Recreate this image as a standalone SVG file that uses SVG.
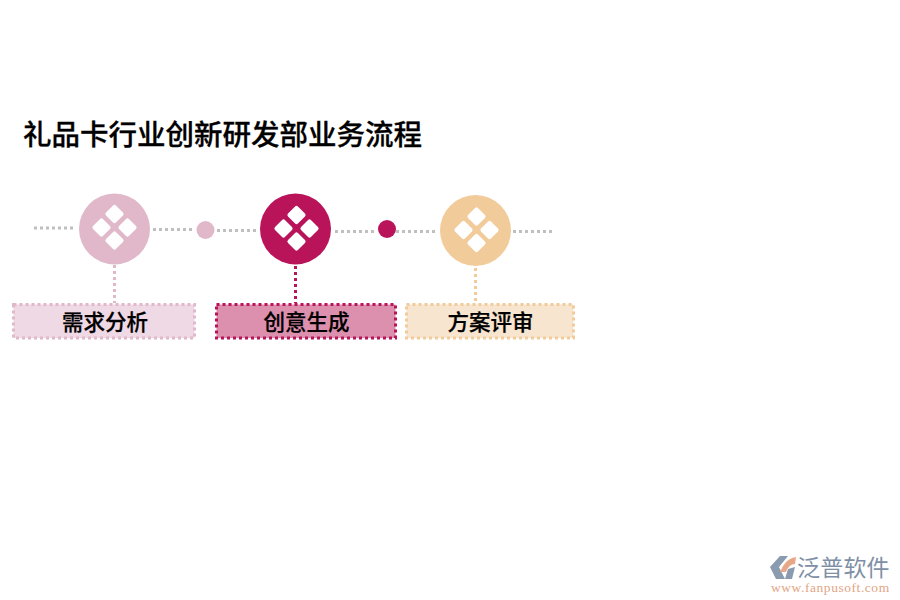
<svg xmlns="http://www.w3.org/2000/svg" width="900" height="600" viewBox="0 0 900 600">
<style>
text{font-family:"Liberation Sans","Noto Sans CJK SC",sans-serif;font-weight:500;fill:#000}
.t{font-size:28.500px;stroke:#000;stroke-width:.3px}
.l{font-size:21.500px;text-anchor:middle;stroke:#000;stroke-width:.25px}
.g{fill:none;stroke:#bfbfbf;stroke-width:3;stroke-dasharray:3 3}
.v,.b{stroke-width:3;stroke-dasharray:3 3}
.v{fill:none}
.d{fill:#fff}
</style>
<defs>
<g id="dia">
<rect class="d" x="-7" y="-7" width="14" height="14" rx="2" transform="translate(0,-14.5) rotate(45)"/>
<rect class="d" x="-7" y="-7" width="14" height="14" rx="2" transform="translate(-13,-1) rotate(45)"/>
<rect class="d" x="-7" y="-7" width="14" height="14" rx="2" transform="translate(13,-1) rotate(45)"/>
<rect class="d" x="-7" y="-7" width="14" height="14" rx="2" transform="translate(0,12) rotate(45)"/>
</g>
</defs>
<rect width="900" height="600" fill="#fff"/>
<text id="title" class="t" x="23" y="144.500">礼品卡行业创新研发部业务流程</text>
<g id="connectors">
<path class="g" d="M34 228H73"/>
<path class="g" d="M153 229.500H193"/>
<path class="g" d="M217 230.500H257"/>
<path class="g" d="M335 231.500H374"/>
<path class="g" d="M396 231.500H436"/>
<path class="g" d="M513 231.500H552"/>
<path class="v" stroke="#e0b8ca" d="M114.500 265V303"/>
<path class="v" stroke="#b9135a" d="M295.500 266V303"/>
<path class="v" stroke="#f2cb9a" d="M475.500 268V303"/>
</g>
<g id="node1">
<circle cx="114.500" cy="229" r="35.500" fill="#e0b8ca"/>
<use href="#dia" x="114.500" y="228.500"/>
<rect class="b" x="13.500" y="304.500" width="181" height="33.500" fill="#efd9e5" stroke="#e0b8ca"/>
<text class="l" x="105" y="329.500">需求分析</text>
</g>
<g id="dot1"><circle cx="205.500" cy="230" r="9" fill="#e0b8ca"/></g>
<g id="node2">
<circle cx="295.500" cy="229" r="35.500" fill="#b9135a"/>
<use href="#dia" x="296.500" y="229.500"/>
<rect class="b" x="216.500" y="304.500" width="179" height="33.500" fill="#dd8fae" stroke="#b9135a"/>
<text class="l" x="306.500" y="329.500">创意生成</text>
</g>
<g id="dot2"><circle cx="387" cy="229" r="9" fill="#b9135a"/></g>
<g id="node3">
<circle cx="475.500" cy="230.500" r="35.500" fill="#f2cb9a"/>
<use href="#dia" x="476.500" y="231"/>
<rect class="b" x="406.500" y="304.500" width="167" height="33.500" fill="#f8e5cf" stroke="#f2cb9a"/>
<text class="l" x="490.500" y="329.500">方案评审</text>
</g>
<g id="logo">
<path d="M780 556L770 567L776 579L785 579L779 567L788 556Z" fill="#8a9bb0"/>
<path d="M783 566Q788 558 796 557L795 564Q789 564 786 572L780 572Z" fill="#e8a888"/>
<path d="M788 569L795 567L792 579L785 579Z" fill="#8a9bb0"/>
<text x="797" y="576" style="font-size:23px;font-weight:400;fill:#7f90a6;letter-spacing:.2px">泛普软件</text>
<text x="771" y="592" style="font-family:'Liberation Serif',serif;font-size:13.500px;font-weight:400;fill:#e3a585;letter-spacing:.55px">www.fanpusoft.com</text>
</g>
</svg>
